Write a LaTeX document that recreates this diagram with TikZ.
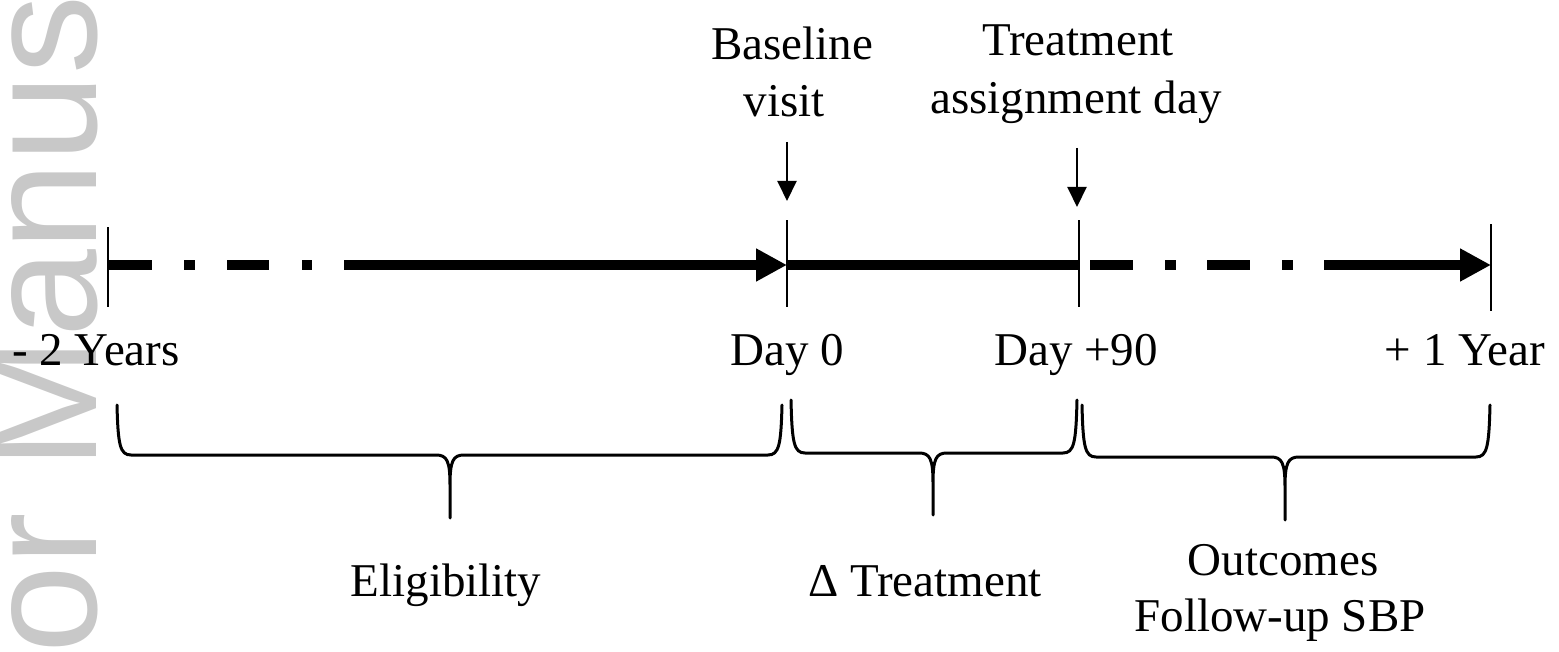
\documentclass[tikz,border=0pt]{standalone}
\usepackage{fontspec}
\setmainfont{Liberation Serif}
\newfontfamily\wmfont{Liberation Sans}
\usetikzlibrary{arrows.meta}
\definecolor{wmgray}{RGB}{200,200,200}
\newcommand{\drawbrc}[6]{%
 \draw[brc] (#1,#3) .. controls (#1+1,#4-10) and (#1+3,#4) .. (#1+14,#4)
   -- (#5-14,#4) .. controls (#5-3,#4) and (#5,#4+6) .. (#5,#4+30) -- (#5,#6)
   (#5,#4+30) .. controls (#5,#4+6) and (#5+3,#4) .. (#5+14,#4)
   -- (#2-14,#4) .. controls (#2-3,#4) and (#2-1,#4-10) .. (#2,#3);}
\begin{document}
\begin{tikzpicture}[x=1pt,y=-1pt,
  lbl/.style={font=\fontsize{47}{56}\selectfont, inner sep=0pt, anchor=base},
  axis/.style={line width=10pt, line cap=butt},
  bigtip/.style={-{Triangle[length=31pt,width=31pt]}},
  tickmark/.style={line width=2pt},
  pointer/.style={line width=2pt, -{Triangle[length=20pt,width=19pt]}},
  brc/.style={line width=3pt, line join=round, line cap=round},
  wm/.style={font=\wmfont\fontsize{158}{158}\selectfont, text=wmgray, rotate=90, anchor=base west, inner sep=0pt}
]
\useasboundingbox (0,0) rectangle (1559,652);
\begin{scope}
  \clip (0,0) rectangle (1559,652);
  \node[wm] (watermark) at (96,979) {Author Manuscript};
\end{scope}

% timeline anchor points
\coordinate (T0) at (108,265);
\coordinate (T1) at (787,265);
\coordinate (T2) at (1079,265);
\coordinate (T3) at (1491,265);
\coordinate (S3) at (1090,265);

% main axis
\draw[axis, bigtip, dash pattern=on 44pt off 32pt on 11pt off 32pt on 42pt off 33pt on 10pt off 32pt on 2000pt off 0pt] (T0) -- (T1);
\draw[axis] (T1) -- (T2);
\draw[axis, bigtip, dash pattern=on 43pt off 32pt on 11pt off 31pt on 43pt off 32pt on 11pt off 31pt on 2000pt off 0pt] (S3) -- (T3);

% ticks
\draw[tickmark] ([yshift=-42pt]T0) -- ([yshift=38pt]T0);
\draw[tickmark] ([yshift=-42pt]T1) -- ([yshift=45pt]T1);
\draw[tickmark] ([yshift=-42pt]T2) -- ([yshift=45pt]T2);
\draw[tickmark] ([yshift=-46pt]T3) -- ([yshift=41pt]T3);

% top labels and pointers
\node[lbl] (bl1) at (792,60) {Baseline};
\node[lbl] (bl2) at (784,117) {visit};
\node[lbl] (ta1) at (1078,56) {Treatment};
\node[lbl] (ta2) at (1076,114) {assignment day};
\coordinate (p1s) at (787,142);
\coordinate (p1e) at (787,201);
\coordinate (p2s) at (1077,148);
\coordinate (p2e) at (1077,207);
\draw[pointer] (p1s) -- (p1e);
\draw[pointer] (p2s) -- (p2e);

% axis labels
\node[lbl, anchor=base west] (lm2) at (12,366) {- 2 Years};
\node[lbl] (ld0) at (787,366) {Day 0};
\node[lbl] (ld90) at (1076,366) {Day +90};
\node[lbl] (ly1) at (1465,366) {+ 1 Year};

% braces
\drawbrc{117}{782}{405}{455}{450}{518}
\drawbrc{791}{1077}{400}{453}{933}{515}
\drawbrc{1082}{1490}{405}{457}{1285}{520}

% brace labels
\node[lbl] (elig) at (446,596) {Eligibility};
\node[lbl] (dtr) at (925,596) {Δ Treatment};
\node[lbl] (out1) at (1283,575) {Outcomes};
\node[lbl] (out2) at (1280,631) {Follow-up SBP};
\end{tikzpicture}
\end{document}
